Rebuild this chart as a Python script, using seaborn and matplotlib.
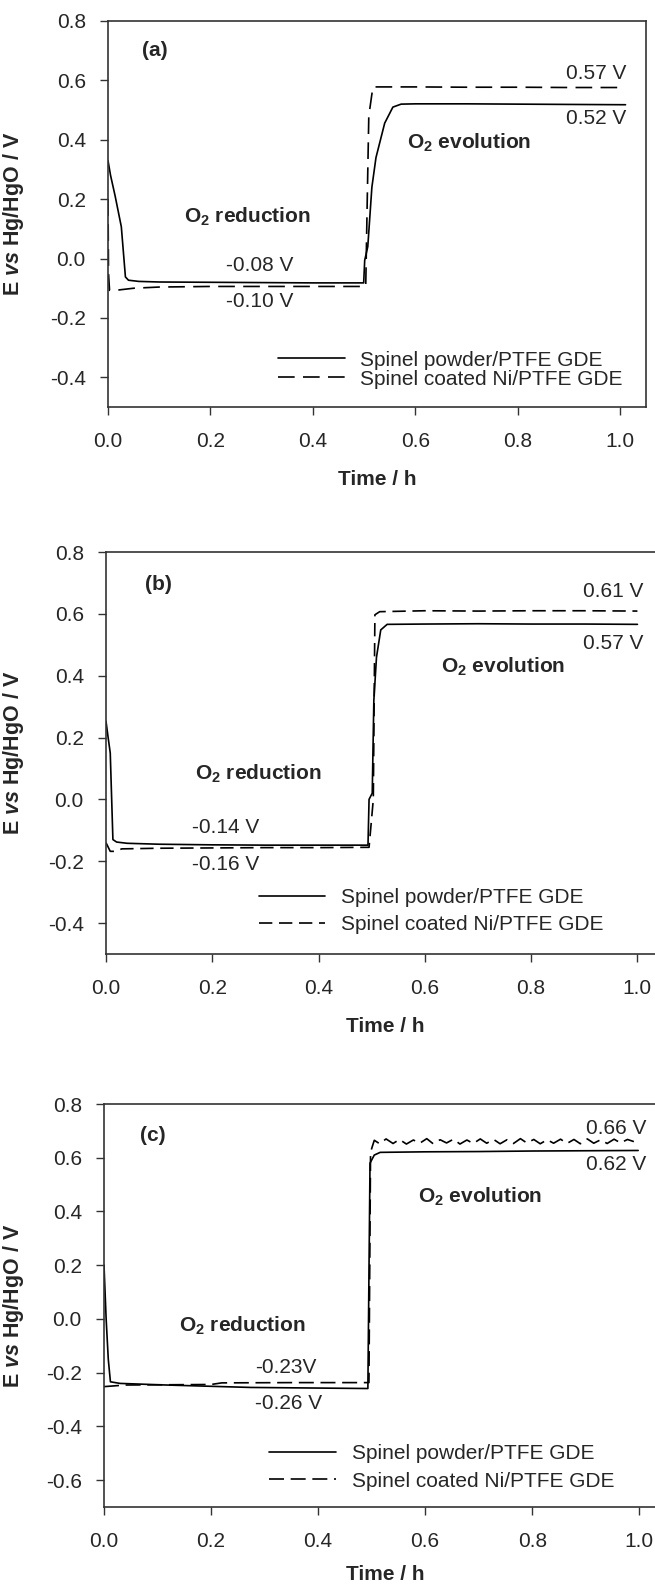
import matplotlib
matplotlib.use('Agg')
import matplotlib.pyplot as plt
import seaborn as sns

# ---- data (time in h, potential in V vs Hg/HgO) ----
# panel (a)
t_a_powder = [0.0, 0.005, 0.014, 0.026, 0.034, 0.04, 0.06, 0.1, 0.2, 0.3, 0.4, 0.499,
              0.501, 0.507, 0.515, 0.523, 0.54, 0.556, 0.572, 0.6, 0.7, 0.8, 0.9, 1.01]
E_a_powder = [0.33, 0.28, 0.21, 0.107, -0.062, -0.073, -0.077, -0.079, -0.08, -0.081, -0.082, -0.082,
              -0.006, 0.04, 0.24, 0.34, 0.456, 0.51, 0.52, 0.521, 0.521, 0.52, 0.519, 0.518]
t_a_coated = [0.0, 0.001, 0.003, 0.02, 0.05, 0.1, 0.2, 0.3, 0.4, 0.503,
              0.506, 0.509, 0.517, 0.6, 0.7, 0.8, 0.9, 1.01]
E_a_coated = [0.2, -0.05, -0.107, -0.106, -0.10, -0.096, -0.094, -0.094, -0.094, -0.094,
              0.2, 0.48, 0.578, 0.578, 0.577, 0.577, 0.576, 0.576]

# panel (b)
t_b_powder = [0.0, 0.004, 0.008, 0.013, 0.02, 0.04, 0.1, 0.2, 0.3, 0.4, 0.493,
              0.495, 0.501, 0.504, 0.509, 0.517, 0.529, 0.6, 0.7, 0.8, 0.9, 1.0]
E_b_powder = [0.253, 0.2, 0.15, -0.13, -0.138, -0.142, -0.145, -0.147, -0.148, -0.148, -0.148,
              0.0, 0.02, 0.32, 0.46, 0.548, 0.566, 0.567, 0.568, 0.567, 0.567, 0.566]
t_b_coated = [0.0, 0.008, 0.015, 0.03, 0.1, 0.2, 0.3, 0.4, 0.495,
              0.503, 0.506, 0.515, 0.6, 0.7, 0.8, 0.9, 1.0]
E_b_coated = [-0.14, -0.168, -0.168, -0.16, -0.158, -0.157, -0.156, -0.156, -0.155,
              0.0, 0.597, 0.607, 0.61, 0.609, 0.61, 0.61, 0.609]

# panel (c)
t_c_powder = [0.0, 0.004, 0.008, 0.012, 0.03, 0.117, 0.274, 0.493,
              0.497, 0.505, 0.516, 0.6, 0.7, 0.8, 0.9, 0.998]
E_c_powder = [0.2, 0.0, -0.15, -0.234, -0.24, -0.246, -0.255, -0.259,
              0.58, 0.61, 0.62, 0.622, 0.623, 0.625, 0.626, 0.627]
t_c_coated = [0.0, 0.04, 0.2, 0.22, 0.35, 0.495, 0.498, 0.501, 0.505,
              0.515, 0.527, 0.54, 0.552, 0.565, 0.578, 0.59, 0.603, 0.615, 0.628,
              0.64, 0.653, 0.665, 0.678, 0.69, 0.703, 0.715, 0.728, 0.74, 0.753,
              0.765, 0.778, 0.79, 0.803, 0.815, 0.828, 0.84, 0.853, 0.865, 0.878,
              0.89, 0.903, 0.915, 0.928, 0.94, 0.953, 0.965, 0.978, 0.99]
E_c_coated = [-0.252, -0.246, -0.244, -0.238, -0.237, -0.237, 0.62, 0.64, 0.665,
              0.652, 0.67, 0.653, 0.668, 0.651, 0.666, 0.654, 0.671, 0.652, 0.667,
              0.655, 0.669, 0.651, 0.666, 0.653, 0.67, 0.654, 0.668, 0.652, 0.667,
              0.653, 0.671, 0.655, 0.668, 0.652, 0.667, 0.654, 0.669, 0.653, 0.668,
              0.652, 0.67, 0.654, 0.667, 0.653, 0.669, 0.655, 0.668, 0.66]

series_names = ['Spinel powder/PTFE GDE', 'Spinel coated Ni/PTFE GDE']
panel_tags = ['(a)', '(b)', '(c)']
y_limits = [(-0.5, 0.8), (-0.5, 0.8), (-0.7, 0.8)]
y_ticks = [[-0.4, -0.2, 0.0, 0.2, 0.4, 0.6, 0.8],
           [-0.4, -0.2, 0.0, 0.2, 0.4, 0.6, 0.8],
           [-0.6, -0.4, -0.2, 0.0, 0.2, 0.4, 0.6, 0.8]]
x_ticks = [0.0, 0.2, 0.4, 0.6, 0.8, 1.0]
x_tick_labels = ['0.0', '0.2', '0.4', '0.6', '0.8', '1.0']

# plateau labels: (text, t, E, ha)
value_labels = [
    [('0.57 V', 1.012, 0.623, 'right'), ('0.52 V', 1.012, 0.473, 'right'),
     ('-0.08 V', 0.23, -0.023, 'left'), ('-0.10 V', 0.23, -0.146, 'left')],
    [('0.61 V', 1.012, 0.672, 'right'), ('0.57 V', 1.012, 0.503, 'right'),
     ('-0.14 V', 0.161, -0.092, 'left'), ('-0.16 V', 0.161, -0.211, 'left')],
    [('0.66 V', 1.013, 0.707, 'right'), ('0.62 V', 1.013, 0.576, 'right'),
     ('-0.23V', 0.283, -0.18, 'left'), ('-0.26 V', 0.283, -0.315, 'left')],
]

sns.set_style('ticks')
plt.rcParams['font.family'] = ['Liberation Sans', 'DejaVu Sans']
plt.rcParams['mathtext.fontset'] = 'custom'
plt.rcParams['mathtext.rm'] = 'Liberation Sans'
plt.rcParams['mathtext.it'] = 'Liberation Sans:italic'
plt.rcParams['mathtext.bf'] = 'Liberation Sans:bold'
plt.rcParams['mathtext.bfit'] = 'Liberation Sans:bold:italic'

FS = 15
W, H = 655, 1586
fig = plt.figure(figsize=(W / 100, H / 100), dpi=100)

# axes boxes in pixels: left, right, top, bottom
boxes = [(108, 646, 21, 407), (106, 664, 552, 954), (104, 666, 1104, 1507)]
axes = []
for (l, r, t, b) in boxes:
    axes.append(fig.add_axes([l / W, 1 - b / H, (r - l) / W, (b - t) / H]))

data = [
    (t_a_powder, E_a_powder, t_a_coated, E_a_coated),
    (t_b_powder, E_b_powder, t_b_coated, E_b_coated),
    (t_c_powder, E_c_powder, t_c_coated, E_c_coated),
]
dash_styles = [(10, 5), (8, 4), (9, 4)]
tag_pos = [(0.091, 0.70), (0.099, 0.694), (0.092, 0.681)]
evo_pos = [(0.584, 0.389), (0.631, 0.43), (0.587, 0.456)]
red_pos = [(0.148, 0.141), (0.167, 0.084), (0.141, -0.025)]
leg_anchor = [(0.332, -0.374), (0.287, -0.362), (0.309, -0.553)]
leg_spacing = [0.0, 0.4, 0.4]
xlabel_pad = [14, 14, 10]

for i, ax in enumerate(axes):
    tp, ep, tc, ec = data[i]
    sns.lineplot(x=tp, y=ep, ax=ax, color='black', lw=1.2, sort=False,
                 estimator=None, label=series_names[0])
    line2 = sns.lineplot(x=tc, y=ec, ax=ax, color='black', lw=1.2, sort=False,
                         estimator=None, label=series_names[1]).lines[-1]
    line2.set_dashes(dash_styles[i])

    ax.set_xlim(0, 1.05)
    ax.set_ylim(*y_limits[i])
    ax.set_xticks(x_ticks)
    ax.set_xticklabels(x_tick_labels)
    ax.set_yticks(y_ticks[i])
    ax.set_yticklabels(['%.1f' % v for v in y_ticks[i]])
    ax.tick_params(axis='both', labelsize=FS, length=6, width=1, color='#333333',
                   direction='out')
    ax.tick_params(axis='x', pad=12)
    ax.tick_params(axis='y', pad=10)
    for s in ax.spines.values():
        s.set_visible(True)
        s.set_color('#333333')
        s.set_linewidth(1.2)

    ax.set_xlabel('Time / h', fontsize=FS, fontweight='bold', labelpad=xlabel_pad[i])
    ax.set_ylabel(r'E $\mathbfit{vs}$ Hg/HgO / V', fontsize=15.5, fontweight='bold')
    l, r, t, b = boxes[i]
    ax.yaxis.set_label_coords((26 - l) / (r - l), 0.5)

    ax.text(*tag_pos[i], panel_tags[i], fontsize=FS, fontweight='bold',
            ha='center', va='center')
    ax.text(*evo_pos[i], r'$\mathbf{O_2}$ evolution', fontsize=FS, fontweight='bold',
            ha='left', va='center')
    ax.text(*red_pos[i], r'$\mathbf{O_2}$ reduction', fontsize=FS, fontweight='bold',
            ha='left', va='center')
    for txt, x, y, ha in value_labels[i]:
        ax.text(x, y, txt, fontsize=FS, ha=ha, va='center')

    ax.legend(loc='center left', bbox_to_anchor=leg_anchor[i],
              bbox_transform=ax.transData, frameon=False, fontsize=FS,
              borderpad=0, borderaxespad=0, handlelength=3.2, handletextpad=0.75,
              labelspacing=leg_spacing[i])

fig.savefig('out.png', dpi=100)
